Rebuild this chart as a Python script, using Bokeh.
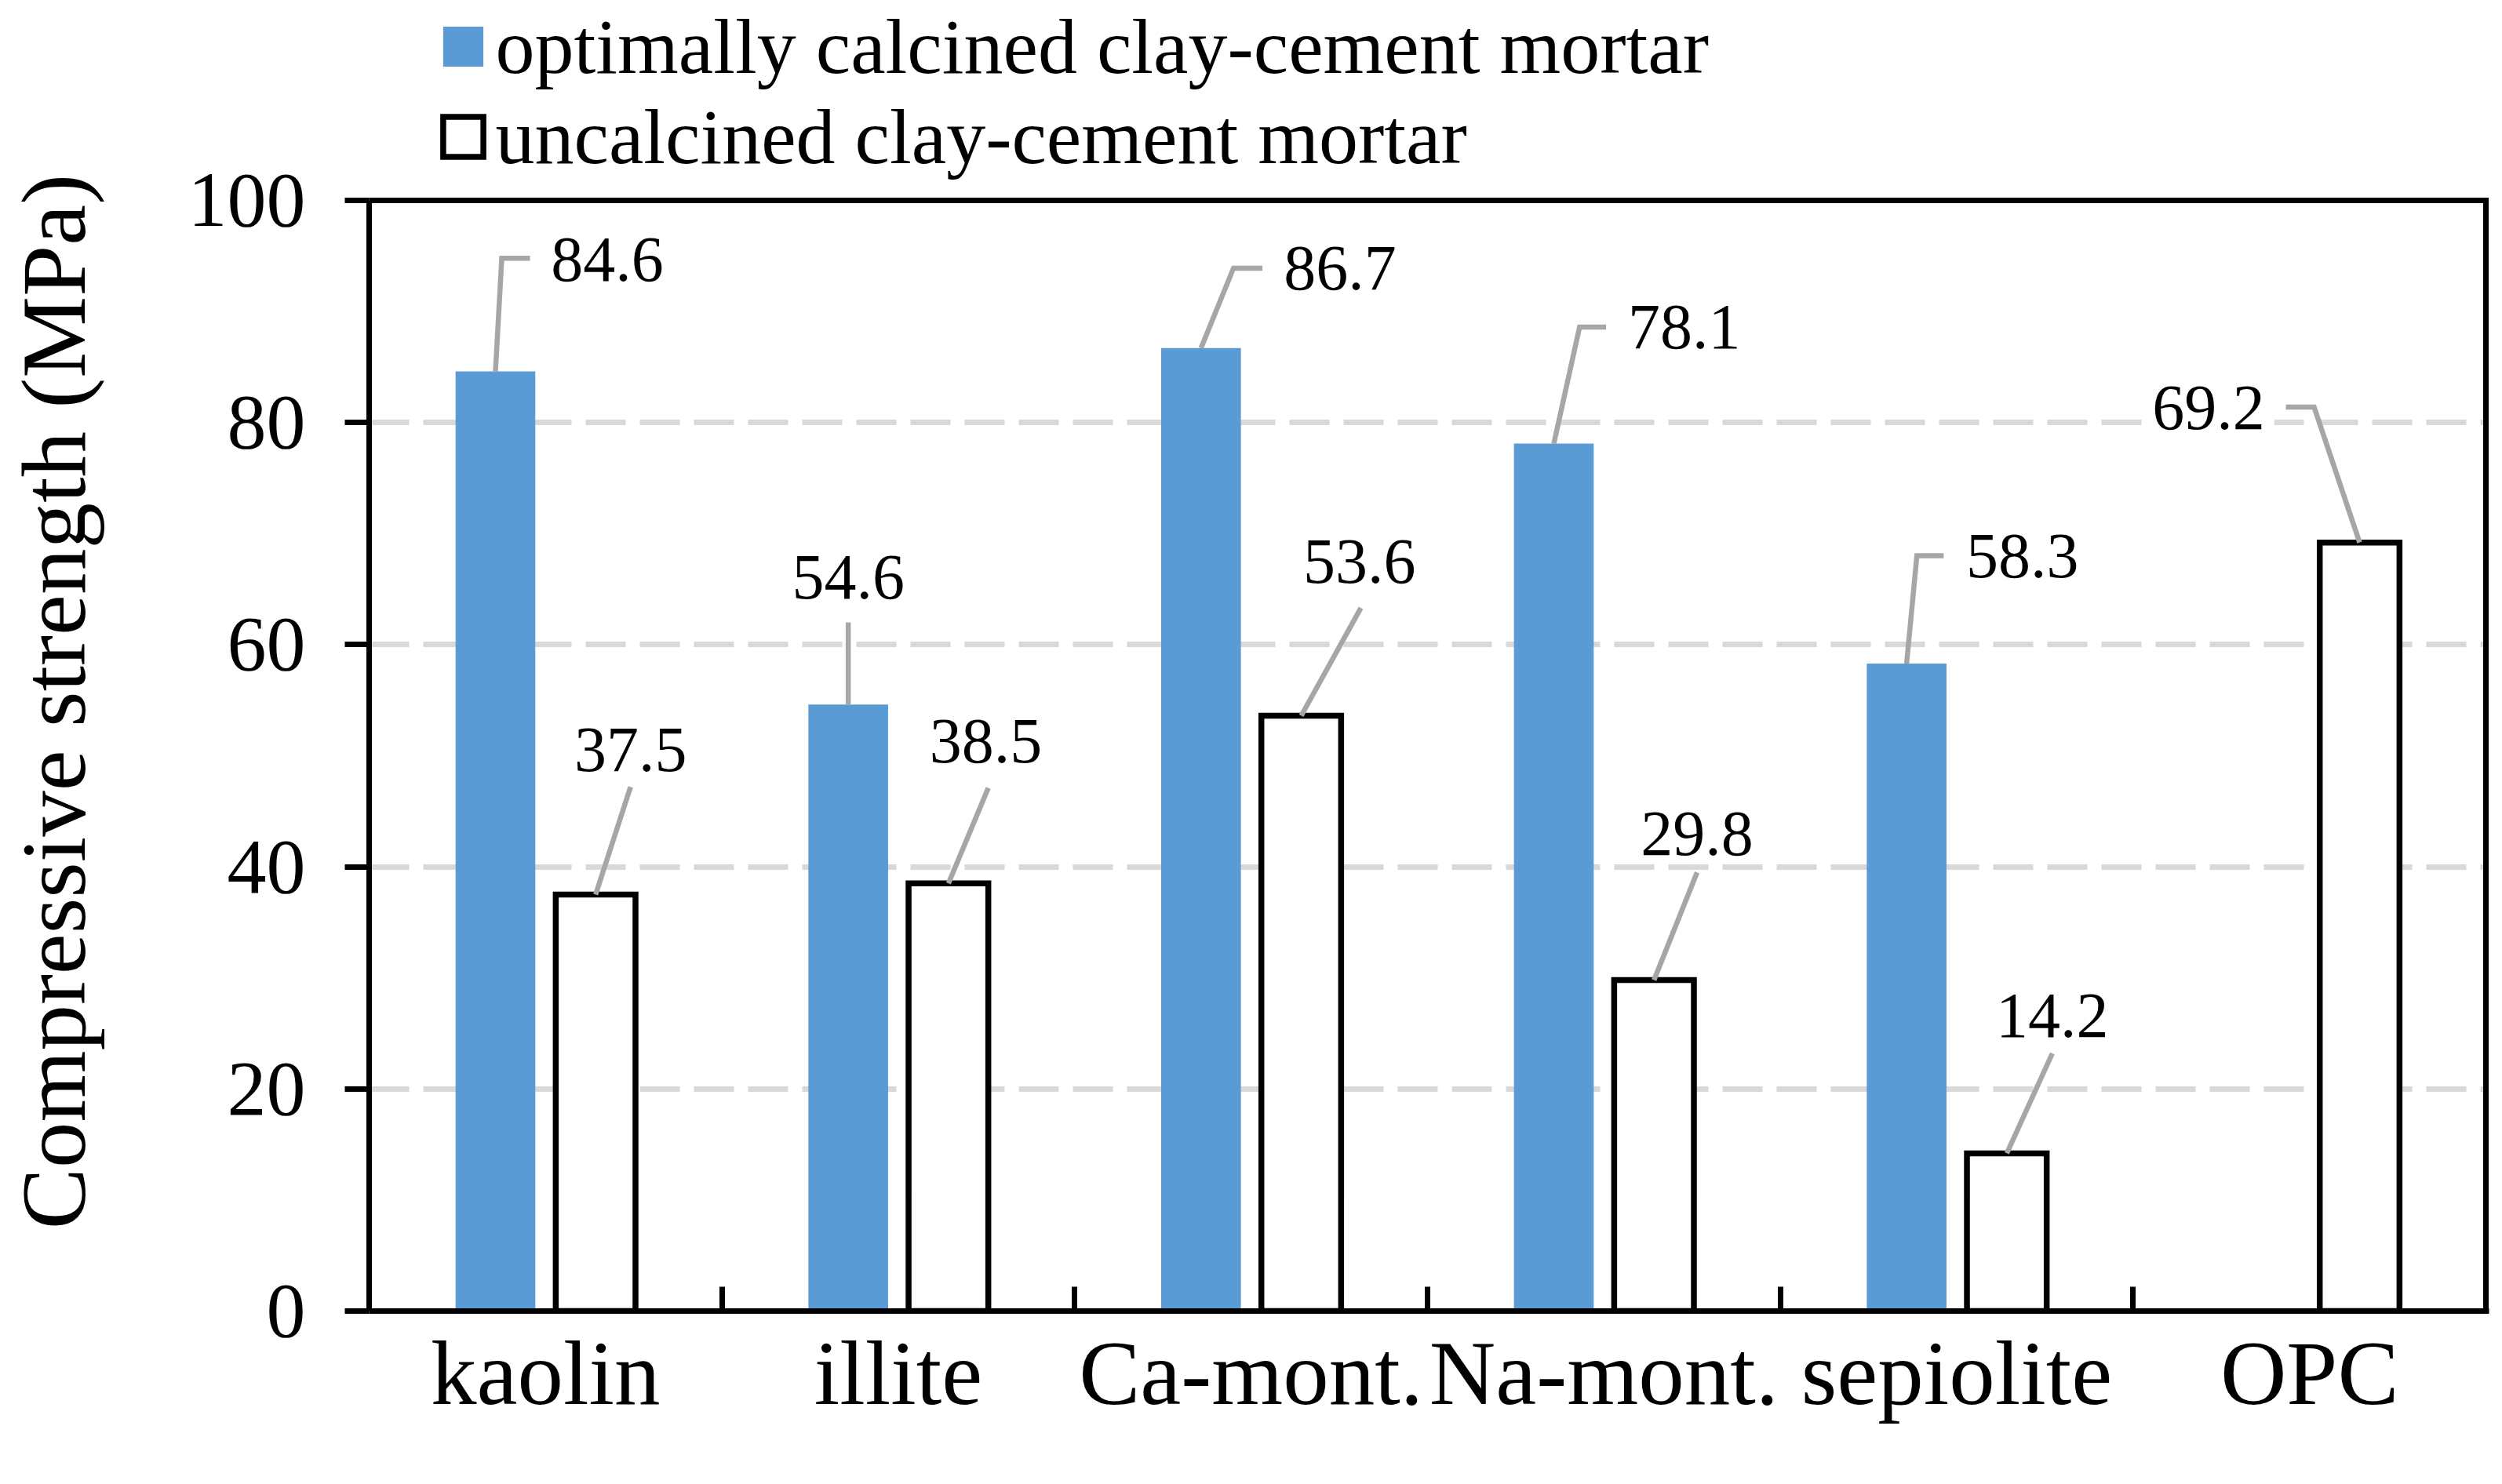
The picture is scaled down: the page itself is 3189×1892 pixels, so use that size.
import math
from bokeh.plotting import figure
from bokeh.models import Range1d, FixedTicker, Legend, LegendItem
from bokeh.core.properties import value
from bokeh.embed import file_html
from bokeh.resources import INLINE

# ---------------- data ----------------
categories = ["kaolin", "illite", "Ca-mont.", "Na-mont.", "sepiolite", "OPC"]
calcined = [84.6, 54.6, 86.7, 78.1, 58.3, None]
uncalcined = [37.5, 38.5, 53.6, 29.8, 14.2, 69.2]
y_ticks = [0, 20, 40, 60, 80, 100]
series_names = ["optimally calcined clay-cement mortar", "uncalcined clay-cement mortar"]
y_title = "Compressive strength (MPa)"

# ---------------- label layout (offsets from the bar top) ----------------
calc_text_dx = [0.317, 0.0, 0.394, 0.370, 0.328]
calc_text_y = [94.7, 66.1, 93.9, 88.6, 68.0]
calc_elbow_dx = [0.018, 0.0, 0.092, 0.073, 0.029]
calc_elbow_y = [94.8, 62.0, 93.9, 88.6, 68.0]
calc_end_dx = [0.098, 0.0, 0.174, 0.148, 0.105]

unc_text_dx = [0.099, 0.106, 0.165, 0.122, 0.129, -0.428]
unc_text_y = [50.5, 51.3, 67.5, 43.0, 26.6, 81.3]
unc_elbow_dx = [0.099, 0.113, 0.169, 0.122, 0.129, -0.129]
unc_elbow_y = [47.2, 47.1, 63.3, 39.5, 23.2, 81.4]
unc_end_dx = [0.099, 0.113, 0.169, 0.122, 0.129, -0.209]

# ---------------- style / layout ----------------
FONT = "Liberation Serif"
BLUE = "#5B9BD5"
GRID = "#D9D9D9"
LEADER = "#A6A6A6"
OFFSET = 0.142
BAR_W = 0.226

W, H = 3180, 1884
FRAME_L, FRAME_B = 463, 1671          # frame left / bottom (px)
BOX_TOP_PX = 255                      # where the value 100 sits (px)
Y_MAX = 100
Y_VIEW_TOP = Y_MAX * FRAME_B / (FRAME_B - BOX_TOP_PX)   # frame reaches the canvas top
X0, X1 = -0.5, len(categories) - 0.5
X_PAD = 4 / 450.8                     # room for the right border stroke

p = figure(width=W, height=H, x_range=Range1d(X0, X1 + X_PAD),
           y_range=Range1d(0, Y_VIEW_TOP),
           output_backend="svg", toolbar_location=None, title=None)
p.min_border_left = FRAME_L
p.min_border_right = 8
p.min_border_top = 0
p.min_border_bottom = H - FRAME_B
p.outline_line_color = None
p.background_fill_color = "white"
p.border_fill_color = "white"

# y axis
yax = p.yaxis[0]
yax.ticker = FixedTicker(ticks=y_ticks)
yax.bounds = (0, Y_MAX)
yax.major_tick_out = 31
yax.major_tick_in = 0
yax.minor_tick_line_color = None
yax.axis_line_width = 7
yax.axis_line_color = "black"
yax.major_tick_line_width = 7
yax.major_tick_line_color = "black"
yax.major_label_text_font = FONT
yax.major_label_text_font_size = "100px"
yax.major_label_text_color = "black"
yax.major_label_standoff = 50
# trailing no-break spaces move the centred title down to where the reference has it
yax.axis_label = y_title + "\u00a0" * 4
yax.axis_label_standoff = 104
yax.axis_label_text_font = FONT
yax.axis_label_text_font_size = "117px"
yax.axis_label_text_font_style = "normal"
yax.axis_label_text_color = "black"

# x axis
xax = p.xaxis[0]
xax.ticker = FixedTicker(ticks=list(range(len(categories))),
                         minor_ticks=[i + 0.5 for i in range(len(categories) - 1)])
xax.major_label_overrides = {i: c for i, c in enumerate(categories)}
xax.major_tick_line_color = None
xax.major_tick_in = 0
xax.major_tick_out = 0
xax.minor_tick_in = 31
xax.minor_tick_out = 0
xax.minor_tick_line_width = 7
xax.minor_tick_line_color = "black"
xax.axis_line_width = 7
xax.axis_line_color = "black"
xax.major_label_text_font = FONT
xax.major_label_text_font_size = "117px"
xax.major_label_text_color = "black"
xax.major_label_standoff = 14

p.xgrid.visible = False
p.ygrid.grid_line_color = GRID
p.ygrid.grid_line_width = 7
p.ygrid.grid_line_dash = "51 18"

# bars
cx = [i - OFFSET for i, v in enumerate(calcined) if v is not None]
cv = [v for v in calcined if v is not None]
ux = [i + OFFSET for i in range(len(uncalcined))]

r1 = p.vbar(x=cx, top=cv, width=BAR_W, bottom=0, fill_color=BLUE, line_color=None)
r2 = p.vbar(x=ux, top=uncalcined, width=BAR_W, bottom=0, fill_color="white",
            line_color="black", line_width=7.5, line_join="miter")

# data labels
lx, ly, lt = [], [], []
for x, v, dx, ty in zip(cx, cv, calc_text_dx, calc_text_y):
    lx.append(x + dx); ly.append(ty); lt.append(f"{v:.1f}")
for x, v, dx, ty in zip(ux, uncalcined, unc_text_dx, unc_text_y):
    lx.append(x + dx); ly.append(ty); lt.append(f"{v:.1f}")
p.text(x=lx, y=ly, text=lt, text_align="center", text_baseline="middle",
       text_font=value(FONT), text_font_size="82px", text_color="black",
       background_fill_color="white", padding=12)

# leader lines
xs, ys = [], []
for x, v, edx, ey, hdx in zip(cx, cv, calc_elbow_dx, calc_elbow_y, calc_end_dx):
    xs.append([x, x + edx, x + hdx]); ys.append([v, ey, ey])
for x, v, edx, ey, hdx in zip(ux, uncalcined, unc_elbow_dx, unc_elbow_y, unc_end_dx):
    xs.append([x, x + edx, x + hdx]); ys.append([v, ey, ey])
p.multi_line(xs=xs, ys=ys, line_color=LEADER, line_width=6.5, line_join="miter")

# top and right sides of the plot box
p.line(x=[X0, X1, X1], y=[Y_MAX, Y_MAX, 0], line_color="black", line_width=7,
       line_join="miter", line_cap="square")

# legend (inside the tall frame, above the plot box)
legend = Legend(items=[LegendItem(label=series_names[0], renderers=[r1]),
                       LegendItem(label=series_names[1], renderers=[r2])],
                location=(87.5, FRAME_B - 231.5), orientation="vertical",
                glyph_width=64, glyph_height=64, label_standoff=10,
                label_text_font=FONT, label_text_font_size="100px",
                label_text_color="black",
                label_height=100, spacing=-4, padding=0, margin=0,
                border_line_color=None, background_fill_alpha=0)
p.add_layout(legend)

open("out.html", "w").write(file_html(p, INLINE))
